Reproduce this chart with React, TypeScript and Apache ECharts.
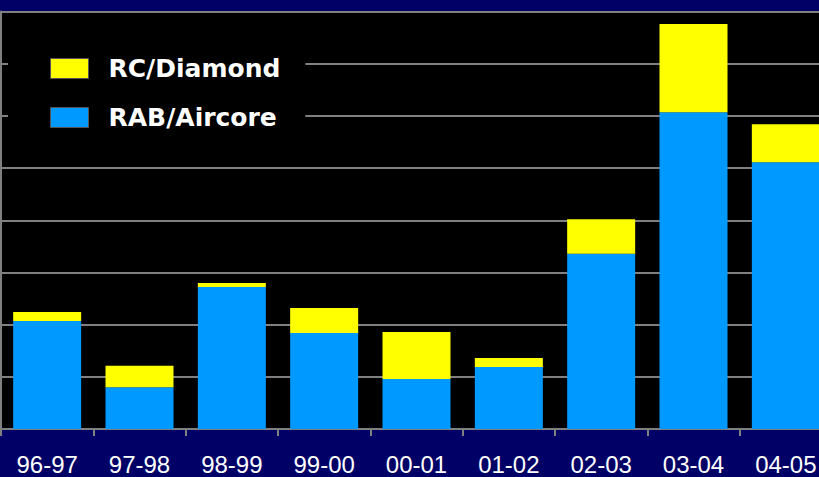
import React, { useEffect, useRef } from "react";
import * as echarts from "echarts";

const categories = ["96-97", "97-98", "98-99", "99-00", "00-01", "01-02", "02-03", "03-04", "04-05"];
const rabAircore = [2.07, 0.8, 2.72, 1.84, 0.96, 1.19, 3.36, 6.07, 5.11];
const rcDiamond = [0.17, 0.41, 0.08, 0.48, 0.9, 0.17, 0.66, 1.69, 0.73];
const seriesNames = ["RC/Diamond", "RAB/Aircore"];

export default function App() {
  const ref = useRef<HTMLDivElement>(null);
  useEffect(() => {
    document.body.style.margin = "0";
    document.body.style.overflow = "hidden";
    document.documentElement.style.overflow = "hidden";
    document.body.style.background = "#000066";
    if (!ref.current) return;
    const chart = echarts.init(ref.current, undefined, { renderer: "svg" });
    const gray = "#808080";
    chart.setOption({
      animation: false,
      backgroundColor: "#000066",
      grid: {
        left: 1,
        top: 11.5,
        right: 0,
        bottom: 48,
        show: true,
        backgroundColor: "#000000",
        borderWidth: 0,
      },
      legend: {
        orient: "vertical",
        left: 8,
        top: 40,
        padding: [14, 25, 14, 42],
        backgroundColor: "#000000",
        itemWidth: 38,
        itemHeight: 20,
        itemGap: 20,
        icon: "rect",
        data: seriesNames.map((n) => ({
          name: n,
          itemStyle: { borderColor: "#555555", borderWidth: 1 },
        })),
        textStyle: {
          color: "#ffffff",
          fontFamily: "DejaVu Sans",
          fontWeight: "bold",
          fontSize: 25,
          lineHeight: 29,
          padding: [0, 0, 0, 15],
        },
      },
      xAxis: {
        type: "category",
        data: categories,
        axisLine: { show: true, lineStyle: { color: gray, width: 2 } },
        axisTick: { show: true, length: 7, lineStyle: { color: gray, width: 2 } },
        axisLabel: {
          color: "#ffffff",
          fontSize: 24,
          fontFamily: "Liberation Sans, Arial",
          margin: 23,
          interval: 0,
        },
        splitLine: { show: false },
      },
      yAxis: {
        type: "value",
        min: 0,
        max: 8,
        interval: 1,
        axisLabel: { show: false },
        axisTick: { show: false },
        axisLine: { show: true, lineStyle: { color: gray, width: 2 } },
        splitLine: { show: true, lineStyle: { color: gray, width: 2 } },
      },
      series: [
        {
          name: "RAB/Aircore",
          type: "bar",
          stack: "total",
          data: rabAircore,
          barWidth: 68,
          itemStyle: { color: "#0099FF" },
        },
        {
          name: "RC/Diamond",
          type: "bar",
          stack: "total",
          data: rcDiamond,
          barWidth: 68,
          itemStyle: { color: "#FFFF00" },
        },
      ],
    });
    return () => chart.dispose();
  }, []);
  return (
    <div
      ref={ref}
      style={{ position: "fixed", left: 0, top: 0, width: 832, height: 477, background: "#000066" }}
    />
  );
}
